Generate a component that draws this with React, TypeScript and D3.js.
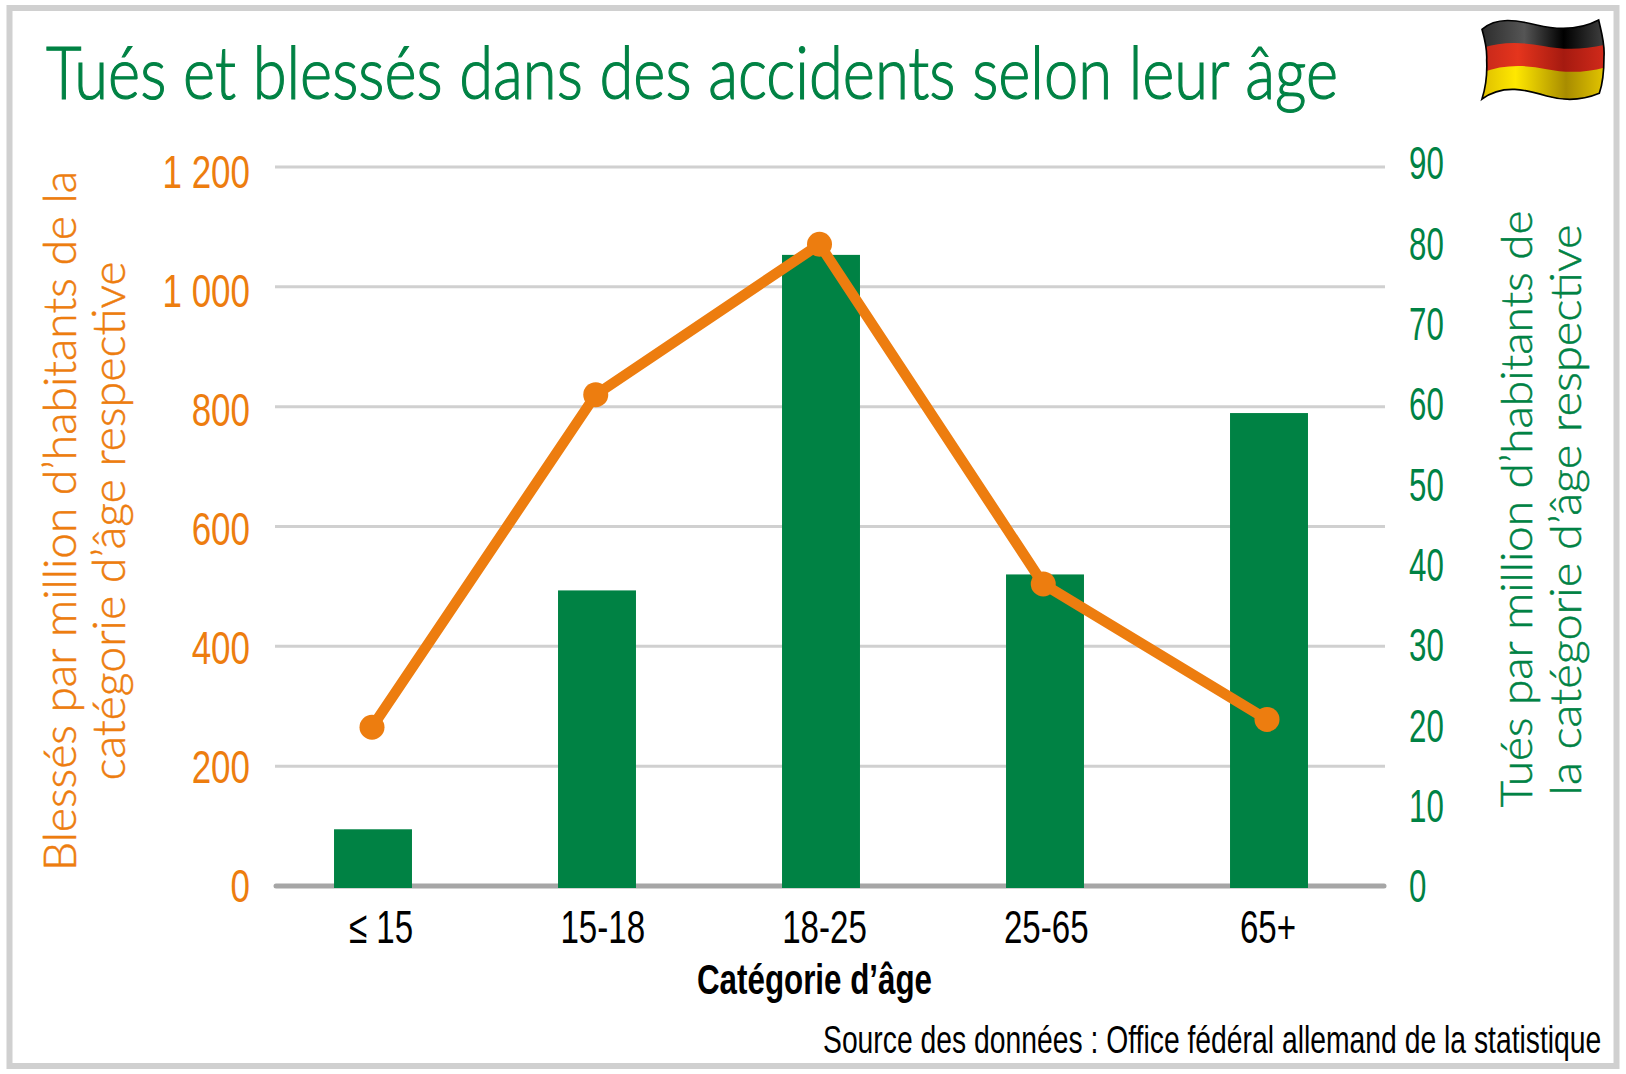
import React, { useEffect, useRef } from 'react';
import * as d3 from 'd3';

// Tués et blessés selon l'âge - Allemagne
const categories = ['≤ 15', '15-18', '18-25', '25-65', '65+'];
const killedPerMillion = [7.1, 37, 79, 39, 59.2];
const injuredPerMillion = [265, 820, 1071, 504, 278];
const injuredTicks = [0, 200, 400, 600, 800, 1000, 1200];
const killedTicks = [0, 10, 20, 30, 40, 50, 60, 70, 80, 90];

const width = 1626;
const height = 1074;
const green = '#008244';
const orange = '#ED7D0F';
const narrow = '"Liberation Sans", sans-serif';
const light = 'Lato, sans-serif';

const flagOutline = 'M246,88 C290,50 350,60 410,75 C480,92 540,90 596,60 C605,100 615,130 612,170 C612,220 605,260 598,280 C550,300 500,305 440,288 C380,270 310,250 246,297 C258,260 262,220 260,180 C262,150 255,120 246,88 Z';

const Flag = () => (
    <g transform="translate(1400,0) scale(0.3333)">
        <defs>
            <clipPath id="flagClip">
                <path d={flagOutline} />
            </clipPath>
            <linearGradient id="flagBlack" x1="0" x2="1" y1="0" y2="0">
                <stop offset="0" stopColor="#2b2b2b" /><stop offset="0.35" stopColor="#555" />
                <stop offset="0.66" stopColor="#000" /><stop offset="1" stopColor="#444" />
            </linearGradient>
            <linearGradient id="flagRed" x1="0" x2="1" y1="0" y2="0">
                <stop offset="0" stopColor="#c4271a" /><stop offset="0.3" stopColor="#e5351d" />
                <stop offset="0.66" stopColor="#a51a10" /><stop offset="1" stopColor="#d32b1b" />
            </linearGradient>
            <linearGradient id="flagYellow" x1="0" x2="1" y1="0" y2="0">
                <stop offset="0" stopColor="#dcbc00" /><stop offset="0.28" stopColor="#ffe800" />
                <stop offset="0.68" stopColor="#a88c00" /><stop offset="1" stopColor="#e6c800" />
            </linearGradient>
        </defs>
        <g clipPath="url(#flagClip)">
            <rect x="240" y="50" width="380" height="260" fill="url(#flagBlack)" />
            <path d="M240,146 C300,125 360,125 430,138 C490,150 550,150 620,133 L620,310 L240,310 Z" fill="url(#flagRed)" />
            <path d="M240,220 C300,195 370,192 440,208 C500,220 560,218 620,201 L620,310 L240,310 Z" fill="url(#flagYellow)" />
        </g>
        <path d={flagOutline} fill="none" stroke="#000" strokeWidth="5" />
    </g>
);

const App = () => {
    const ref = useRef<SVGSVGElement>(null);

    useEffect(() => {
        const svg = d3.select(ref.current);
        svg.selectAll('.chart').remove();
        const root = svg.append('g').attr('class', 'chart');

        const x = d3.scaleBand().domain(categories).range([261, 1381]).paddingInner(0.652).paddingOuter(0.326);
        const xLine = d3.scalePoint().domain(categories).range([372, 1267]);
        const xLabel = d3.scalePoint().domain(categories).range([381, 1268]);
        const yLeft = d3.scaleLinear().domain([0, 1200]).range([886, 167]);
        const yRight = d3.scaleLinear().domain([0, 90]).range([886, 167]);
        const yLeftLabels = d3.scaleLinear().domain([0, 1200]).range([887, 173]);
        const yRightLabels = d3.scaleLinear().domain([0, 90]).range([887, 164]);

        // grid
        root.append('g')
            .selectAll('line')
            .data(injuredTicks.filter(t => t > 0))
            .join('line')
            .attr('x1', 275)
            .attr('x2', 1385)
            .attr('y1', d => yLeft(d))
            .attr('y2', d => yLeft(d))
            .attr('stroke', '#d0d0d0')
            .attr('stroke-width', 3);
        root.append('line')
            .attr('x1', 276).attr('x2', 1384)
            .attr('y1', yLeft(0)).attr('y2', yLeft(0))
            .attr('stroke', '#a6a6a6')
            .attr('stroke-width', 5)
            .attr('stroke-linecap', 'round');

        // bars
        root.append('g')
            .selectAll('rect')
            .data(killedPerMillion)
            .join('rect')
            .attr('x', (_, i) => x(categories[i]) as number)
            .attr('y', d => yRight(d))
            .attr('width', x.bandwidth())
            .attr('height', d => yRight(0) - yRight(d) + 2)
            .attr('fill', green);

        // line
        const line = d3.line<number>()
            .x((_, i) => xLine(categories[i]) as number)
            .y(d => yLeft(d));
        root.append('path')
            .attr('d', line(injuredPerMillion))
            .attr('fill', 'none')
            .attr('stroke', orange)
            .attr('stroke-width', 10.5);
        root.append('g')
            .selectAll('circle')
            .data(injuredPerMillion)
            .join('circle')
            .attr('cx', (_, i) => xLine(categories[i]) as number)
            .attr('cy', d => yLeft(d))
            .attr('r', 12.5)
            .attr('fill', orange);

        // squeeze the labels, no condensed face installed
        const squeeze = (sel: any, factor: number) => sel
            .attr('textLength', function (this: any) { return this.getComputedTextLength() * factor; })
            .attr('lengthAdjust', 'spacingAndGlyphs');

        // axes
        const leftAxis = root.append('g')
            .attr('transform', 'translate(262,0)')
            .call(d3.axisLeft(yLeftLabels)
                .tickValues(injuredTicks)
                .tickSize(0)
                .tickPadding(12)
                .tickFormat(d => d3.format(',')(d as number).replace(',', ' ')));
        leftAxis.select('.domain').remove();
        leftAxis.selectAll('text')
            .attr('fill', orange)
            .style('font-family', narrow)
            .style('font-size', '46px')
            .call(squeeze, 0.76);

        const rightAxis = root.append('g')
            .attr('transform', 'translate(1397,0)')
            .call(d3.axisRight(yRightLabels)
                .tickValues(killedTicks)
                .tickSize(0)
                .tickPadding(12));
        rightAxis.select('.domain').remove();
        rightAxis.selectAll('text')
            .attr('fill', green)
            .style('font-family', narrow)
            .style('font-size', '46px')
            .call(squeeze, 0.68);

        root.append('g')
            .selectAll('text')
            .data(categories)
            .join('text')
            .attr('x', d => xLabel(d) as number)
            .attr('y', 943)
            .attr('text-anchor', 'middle')
            .attr('fill', '#000')
            .style('font-family', narrow)
            .style('font-size', '46px')
            .text(d => d)
            .call(squeeze, 0.72);
    }, []);

    return (
        <svg ref={ref} width={width} height={height} style={{ position: 'absolute', left: 0, top: 0, background: '#fff' }}>
            <rect x="9.5" y="8" width="1607" height="1058" fill="#fff" stroke="#d0d0d0" strokeWidth="6" />
            <text x="46" y="99" fontFamily={light} fontWeight="300" fontSize="72" fill={green} stroke={green} strokeWidth="1.2" textLength="1292" lengthAdjust="spacingAndGlyphs">
                Tués et blessés dans des accidents selon leur âge
            </text>
            <Flag />
            <g fontFamily={light} fontWeight="300" fontSize="46" fill={orange} stroke={orange} strokeWidth="0.5" textAnchor="middle">
                <text transform="translate(76,521) rotate(-90)" textLength="700" lengthAdjust="spacingAndGlyphs">
                    Blessés par million d’habitants de la
                </text>
                <text transform="translate(125,521) rotate(-90)" textLength="519" lengthAdjust="spacingAndGlyphs">
                    catégorie d’âge respective
                </text>
            </g>
            <g fontFamily={light} fontWeight="300" fontSize="44" fill={green} stroke={green} strokeWidth="0.5" textAnchor="middle">
                <text transform="translate(1532,509) rotate(-90)" textLength="597" lengthAdjust="spacingAndGlyphs">
                    Tués par million d’habitants de
                </text>
                <text transform="translate(1581,510) rotate(-90)" textLength="571" lengthAdjust="spacingAndGlyphs">
                    la catégorie d’âge respective
                </text>
            </g>
            <text x="697" y="994" fontFamily={narrow} fontWeight="bold" fontSize="42" fill="#000" textLength="235" lengthAdjust="spacingAndGlyphs">
                Catégorie d’âge
            </text>
            <text transform="translate(823,1053) scale(0.745,1)" fontFamily={narrow} fontSize="38" fill="#000">
                Source des données : Office fédéral allemand de la statistique
            </text>
        </svg>
    );
};

export default App;
